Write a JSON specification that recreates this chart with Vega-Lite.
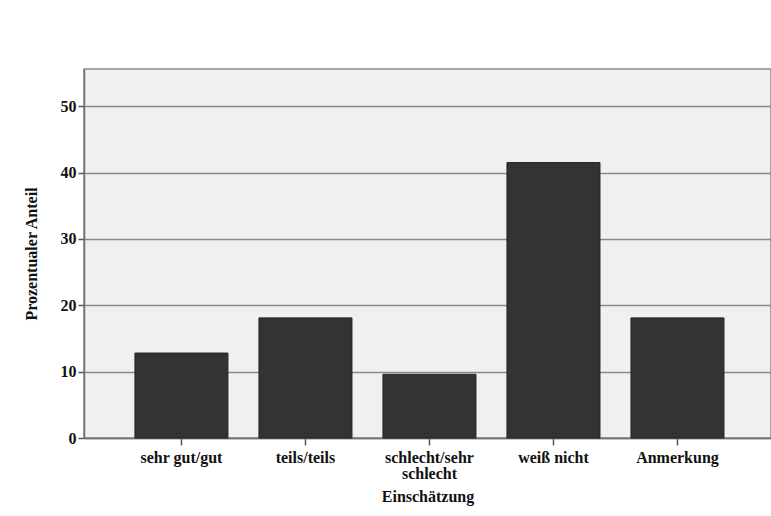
{
  "$schema": "https://vega.github.io/schema/vega-lite/v6.json",
  "width": 687,
  "height": 369,
  "padding": {"left": 84, "top": 69, "right": 0, "bottom": 78},
  "autosize": {"type": "none"},
  "background": "white",
  "config": {
    "view": {"fill": "#f0f0f0", "stroke": "#8a8a8a", "strokeWidth": 1.5},
    "font": "Liberation Serif",
    "axis": {
      "labelFont": "Liberation Serif",
      "titleFont": "Liberation Serif",
      "labelFontWeight": "bold",
      "titleFontWeight": "bold",
      "labelFontSize": 16,
      "titleFontSize": 16,
      "labelColor": "#111111",
      "titleColor": "#111111",
      "domainColor": "#707070",
      "domainWidth": 1.5,
      "tickColor": "#555555",
      "tickWidth": 1.5
    }
  },
  "data": {
    "values": [
      {"kategorie": "sehr gut/gut", "anteil": 12.8},
      {"kategorie": "teils/teils", "anteil": 18.1},
      {"kategorie": "schlecht/sehr schlecht", "anteil": 9.6},
      {"kategorie": "weiß nicht", "anteil": 41.5},
      {"kategorie": "Anmerkung", "anteil": 18.1}
    ]
  },
  "mark": {"type": "bar", "color": "#333333", "stroke": "#222222", "strokeWidth": 1},
  "encoding": {
    "x": {
      "field": "kategorie",
      "type": "nominal",
      "sort": null,
      "scale": {"paddingInner": 0.25, "paddingOuter": 0.395, "align": 0.52},
      "axis": {
        "title": "Einschätzung",
        "labelAngle": 0,
        "tickSize": 7,
        "labelPadding": 4,
        "labelLineHeight": 16,
        "titlePadding": 7,
        "grid": false,
        "labelExpr": "datum.label == 'schlecht/sehr schlecht' ? ['schlecht/sehr', 'schlecht'] : datum.label"
      }
    },
    "y": {
      "field": "anteil",
      "type": "quantitative",
      "scale": {"domain": [0, 55.6], "nice": false},
      "axis": {
        "title": "Prozentualer Anteil",
        "values": [0, 10, 20, 30, 40, 50],
        "tickSize": 6,
        "labelPadding": 2,
        "titlePadding": 21,
        "grid": true,
        "gridColor": "#8a8a8a",
        "gridWidth": 1.5,
        "gridOpacity": 1
      }
    }
  }
}
